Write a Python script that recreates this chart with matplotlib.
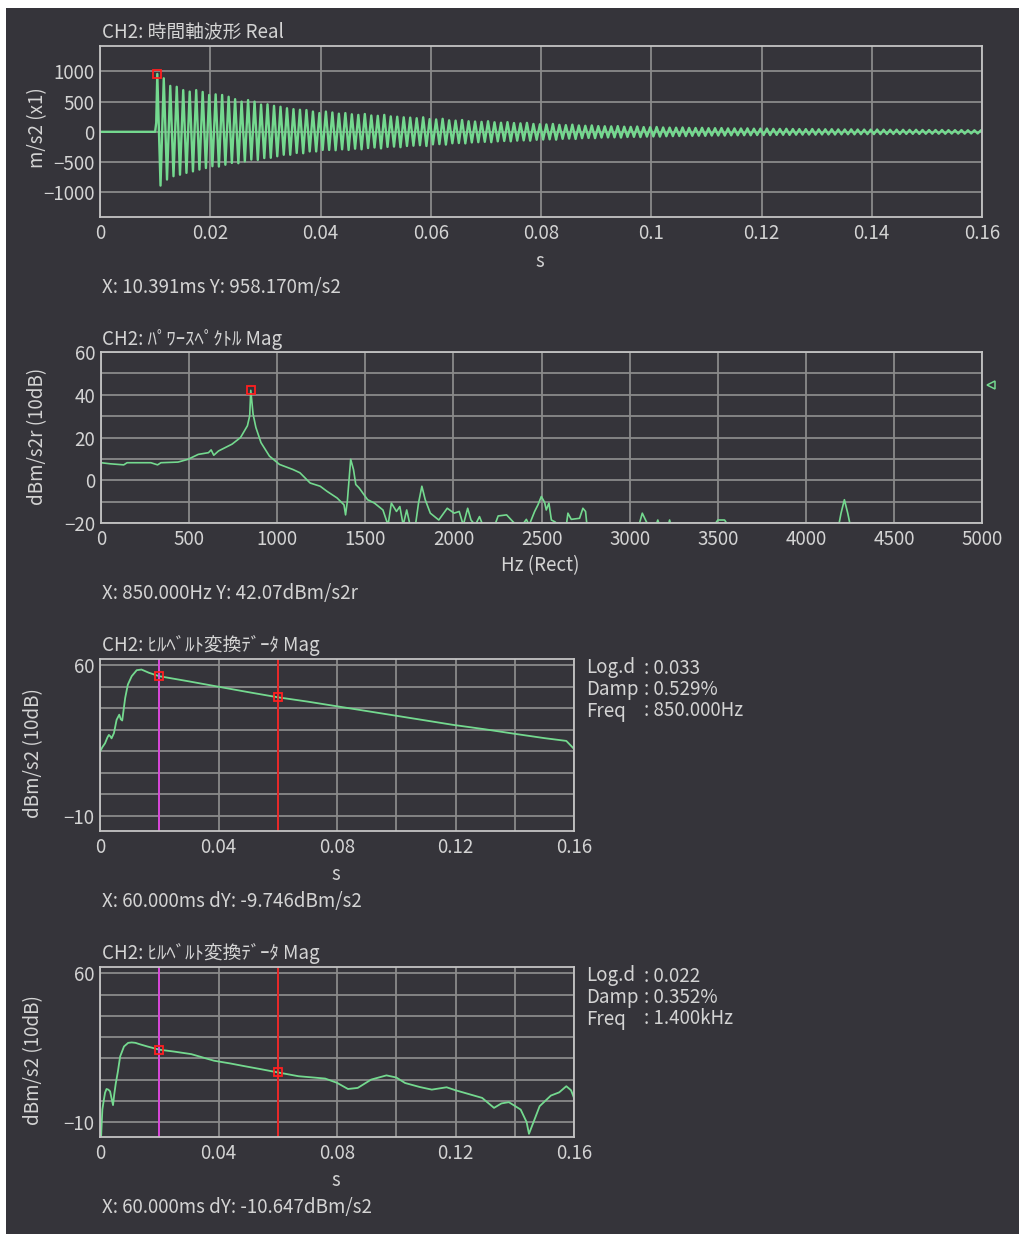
import numpy as np
import matplotlib
matplotlib.use("Agg")
import matplotlib.pyplot as plt
from matplotlib.patches import Rectangle
from matplotlib.transforms import blended_transform_factory

plt.rcParams['font.family'] = ['Noto Sans CJK JP', 'DejaVu Sans']

# ---- data ----
# time waveform: trigger start and the positive / negative peak of each 850 Hz cycle
wave_start = 0.010391
wave_freq = 850.0
wave_pre_t = [0.0, 0.0100, 0.0102]
wave_pre_v = [0.0, 0.0, 150.0]
wave_pos = [958, 885, 760, 745, 690, 665, 690, 660, 610, 620,
            610, 580, 540, 500, 525, 500, 450, 455, 430, 415,
            390, 375, 365, 360, 335, 310, 335, 320, 300, 310,
            290, 280, 295, 270, 265, 280, 255, 250, 240, 235,
            225, 240, 210, 205, 215, 190, 185, 195, 175, 170,
            165, 175, 158, 150, 160, 145, 140, 148, 130, 125,
            122, 130, 115, 110, 118, 105, 100, 106, 95, 92,
            90, 95, 85, 82, 88, 78, 76, 80, 72, 70,
            68, 72, 65, 63, 66, 60, 60, 62, 57, 56,
            55, 57, 52, 52, 54, 49, 48, 50, 46, 45,
            44, 46, 42, 42, 43, 40, 39, 41, 38, 37,
            36, 38, 35, 34, 35, 33, 32, 33, 31, 30,
            30, 31, 28, 28, 29, 26, 26, 25]
wave_neg = [-890, -790, -735, -710, -680, -655, -625, -600, -570, -575,
            -545, -515, -520, -490, -460, -465, -435, -430, -405, -380,
            -380, -350, -355, -325, -325, -300, -300, -305, -290, -300,
            -280, -290, -270, -260, -275, -250, -245, -255, -235, -230,
            -222, -235, -208, -204, -212, -190, -186, -192, -176, -172,
            -166, -172, -158, -152, -158, -146, -142, -147, -132, -128,
            -124, -130, -116, -112, -118, -106, -102, -106, -96, -94,
            -92, -96, -86, -84, -88, -80, -78, -80, -74, -72,
            -70, -72, -67, -65, -67, -62, -62, -63, -59, -58,
            -57, -58, -54, -54, -55, -51, -50, -51, -48, -47,
            -46, -47, -44, -44, -45, -42, -41, -42, -40, -39,
            -38, -39, -37, -36, -37, -35, -34, -35, -33, -32,
            -32, -33, -30, -30, -31, -28, -28, -27]
wave_cursor = (0.010391, 958.170)

# power spectrum (values below -20 fall off the bottom of the plot)
spec_f = [0, 52, 129, 148, 283, 321, 340, 437, 494, 552, 610, 625, 640, 667, 744, 792,
          831, 844, 850, 863, 879, 908, 956, 1013, 1090, 1129, 1187, 1244, 1283, 1340,
          1379, 1388, 1398, 1417, 1433, 1446, 1465, 1513, 1552, 1600, 1629, 1648, 1677,
          1696, 1715, 1735, 1754, 1783, 1802, 1821, 1840, 1869, 1917, 1965, 2004, 2033,
          2056, 2081, 2100, 2124, 2148, 2167, 2235, 2254, 2302, 2338, 2360, 2395, 2414,
          2430, 2461, 2480, 2499, 2518, 2527, 2542, 2556, 2575, 2600, 2641, 2650, 2669,
          2716, 2735, 2750, 2758, 2780, 3040, 3053, 3072, 3095, 3110, 3150, 3160, 3170,
          3220, 3227, 3234, 3470, 3480, 3501, 3539, 3558, 3570, 4180, 4187, 4200, 4219,
          4238, 4252, 4265, 5000]
spec_v = [8.2, 7.7, 7.2, 8.2, 8.2, 7.2, 8.2, 8.5, 9.8, 12.1, 12.9, 14.2, 11.7, 13.7, 16.9, 20.0,
          25.5, 30.2, 42.07, 31.0, 24.7, 17.6, 11.3, 7.4, 5.0, 3.5, -1.3, -2.8, -5.2, -8.3,
          -11.5, -16.2, -9.9, 9.8, 5.0, -2.0, -3.6, -9.1, -10.7, -13.9, -21, -10.7, -14.6,
          -12.3, -21, -13.9, -21, -22, -10.7, -2.8, -9.1, -15.4, -18.6, -13.1, -15.4, -14.6,
          -21, -13.1, -18.6, -21, -17.0, -21, -21, -16.7, -16.2, -19.4, -21, -20.5, -18.3,
          -21, -14.6, -11.5, -7.6, -10.4, -13.9, -10.7, -18.6, -19.4, -21, -21, -15.4, -18.3,
          -17.8, -13.1, -14.6, -21, -24, -24, -21, -15.4, -19.4, -21, -21, -18.6, -21,
          -21, -18.6, -21, -24, -21, -18.6, -18.6, -21, -24, -24, -21, -15.4, -9.1,
          -15.4, -21, -24, -24]
spec_cursor = (850.0, 42.07)
spec_ref_level = 44.5

# Hilbert envelope, 850 Hz band
hil1_t = [0.0, 0.0008, 0.0017, 0.0025, 0.0030, 0.0035, 0.0039, 0.0047, 0.0056, 0.0065,
          0.0070, 0.0075, 0.0085, 0.0094, 0.0107, 0.0124, 0.0140, 0.0165, 0.0200, 0.030,
          0.040, 0.050, 0.060, 0.070, 0.080, 0.090, 0.100, 0.110, 0.119, 0.130, 0.140,
          0.150, 0.1574, 0.160]
hil1_v = [19.9, 22.0, 23.8, 26.5, 27.7, 27.0, 26.1, 28.5, 34.7, 37.1,
          35.0, 34.4, 44.9, 51.1, 55.0, 57.8, 58.1, 56.6, 55.0, 52.6,
          50.1, 47.6, 45.2, 43.2, 41.0, 38.8, 36.6, 34.4, 32.4, 30.3, 28.2,
          26.2, 24.9, 21.2]
hil1_info = [("Log.d", "0.033"), ("Damp", "0.529%"), ("Freq", "850.000Hz")]

# Hilbert envelope, 1400 Hz band
hil2_t = [0.0, 0.0004, 0.0008, 0.0013, 0.0017, 0.0022, 0.0028, 0.0034, 0.0040, 0.0044,
          0.0048, 0.0053, 0.0060, 0.0068, 0.0081, 0.0095, 0.0107, 0.0120, 0.0133, 0.0160,
          0.0200, 0.0250, 0.0308, 0.0350, 0.0385, 0.0440, 0.0489, 0.0540, 0.0600, 0.0670,
          0.0720, 0.0760, 0.0800, 0.0837, 0.0870, 0.0915, 0.0967, 0.1000, 0.1030, 0.1080,
          0.1120, 0.1170, 0.1200, 0.1240, 0.1290, 0.1330, 0.1355, 0.1380, 0.1420, 0.1440,
          0.1448, 0.1458, 0.1484, 0.1522, 0.1550, 0.1574, 0.1590, 0.1600]
hil2_v = [-25, -16, -4, 0.5, 3.8, 5.6, 5.3, 4.5, 0.5, -2.0,
          3.0, 8.0, 13.5, 20.9, 25.6, 27.3, 27.5, 27.3, 26.7, 25.6,
          24.1, 23.2, 22.0, 20.3, 18.9, 17.6, 16.3, 15.0, 13.4, 11.6,
          11.0, 10.5, 8.5, 5.6, 6.1, 10.0, 12.0, 11.0, 8.4, 6.5,
          5.3, 6.4, 5.0, 3.4, 1.4, -3.3, -1.2, -0.6, -4.1, -10.0,
          -15.5, -11.9, -2.5, 2.5, 4.0, 6.9, 5.0, 1.4]
hil2_info = [("Log.d", "0.022"), ("Damp", "0.352%"), ("Freq", "1.400kHz")]

cursor_a = 0.02
cursor_b = 0.06

# ---- style ----
W, H = 1019, 1234
bg = '#35343a'
fg = '#d4d4d4'
grid_c = '#8a8a8a'
green = '#74d98f'
fs = 13.5


def fx(x):
    return x / W


def fy(y):
    return 1 - y / H


def make_axes(x0, y0, x1, y1):
    ax = fig.add_axes([fx(x0), fy(y1), (x1 - x0) / W, (y1 - y0) / H])
    ax.set_facecolor(bg)
    for s in ax.spines.values():
        s.set_color('#c4c4c4')
        s.set_linewidth(1.3)
    ax.tick_params(length=0, colors=fg, labelsize=fs, pad=4)
    ax.grid(True, color=grid_c, linewidth=1.3)
    ax.set_axisbelow(True)
    return ax


def label(x, y, s, **kw):
    fig.text(fx(x), fy(y), s, color=fg, fontsize=fs, va='center', **kw)


fig = plt.figure(figsize=(W / 100, H / 100), dpi=100)
fig.patch.set_facecolor('white')
fig.add_artist(Rectangle((fx(6), 0), 1, 1 - 8 / H, transform=fig.transFigure,
                         facecolor=bg, edgecolor='none', zorder=-10))

# ---- panel 1: time waveform ----
ax1 = make_axes(100, 46, 982, 217)
period = 1.0 / wave_freq
t_pos = wave_start + np.arange(len(wave_pos)) * period
t_neg = t_pos + period / 2
wt = list(wave_pre_t)
wv = list(wave_pre_v)
for a, b, c, d in zip(t_pos, wave_pos, t_neg, wave_neg):
    wt += [a, c]
    wv += [b, d]
wt.append(0.16)
wv.append(0.0)
ax1.plot(wt, wv, color=green, lw=1.7)
ax1.plot(*wave_cursor, marker='s', ms=6, mfc='none', mec='#ff2020', mew=1.3)
ax1.set_xlim(0, 0.16)
ax1.set_ylim(-1410, 1420)
ax1.set_xticks(np.arange(0, 0.161, 0.02))
ax1.set_xticklabels(['0', '0.02', '0.04', '0.06', '0.08', '0.1', '0.12', '0.14', '0.16'])
ax1.set_yticks([1000, 500, 0, -500, -1000])
ax1.set_yticklabels(['1000', '500', '0', '−500', '−1000'])
label(102, 32, 'CH2: 時間軸波形 Real')
label(540, 261, 's', ha='center')
label(102, 287, 'X: 10.391ms Y: 958.170m/s2')
label(38, 128, 'm/s2 (x1)', ha='center', rotation=90)

# ---- panel 2: power spectrum ----
ax2 = make_axes(101, 352, 982, 523)
ax2.plot(spec_f, spec_v, color=green, lw=1.2)
ax2.plot(*spec_cursor, marker='s', ms=6, mfc='none', mec='#ff2020', mew=1.3)
tr = blended_transform_factory(ax2.transAxes, ax2.transData)
ax2.plot([1.01], [spec_ref_level], transform=tr, marker='<', ms=6, mfc='none',
         mec=green, mew=1.1, clip_on=False)
ax2.set_xlim(0, 5000)
ax2.set_ylim(-20, 60)
ax2.set_xticks(np.arange(0, 5001, 500))
ax2.set_yticks(np.arange(-20, 61, 10))
ax2.set_yticklabels([str(v).replace('-', '−') if v % 20 == 0 else '' for v in range(-20, 61, 10)])
label(102, 339, 'CH2: ﾊﾟﾜｰｽﾍﾟｸﾄﾙ Mag')
label(540, 566, 'Hz (Rect)', ha='center')
label(102, 594, 'X: 850.000Hz Y: 42.07dBm/s2r')
label(38, 436, 'dBm/s2r (10dB)', ha='center', rotation=90)

# ---- panels 3, 4: Hilbert envelopes ----
panels = [
    (659, 831, hil1_t, hil1_v, hil1_info, 'X: 60.000ms dY: -9.746dBm/s2'),
    (967, 1137, hil2_t, hil2_v, hil2_info, 'X: 60.000ms dY: -10.647dBm/s2'),
]
for top, bot, ht, hv, info, cur in panels:
    ax = make_axes(100, top, 574, bot)
    ax.plot(ht, hv, color=green, lw=1.3)
    ax.axvline(cursor_a, color='#e040e0', lw=1.3)
    ax.axvline(cursor_b, color='#f02020', lw=1.3)
    for c in (cursor_a, cursor_b):
        ax.plot(c, np.interp(c, ht, hv), marker='s', ms=6, mfc='none', mec='#ff2020', mew=1.3)
    ax.set_xlim(0, 0.16)
    ax.set_ylim(-17, 63)
    ax.set_xticks(np.arange(0, 0.161, 0.02))
    ax.set_xticklabels(['0', '', '0.04', '', '0.08', '', '0.12', '', '0.16'])
    ax.set_yticks(np.arange(-10, 61, 10))
    ax.set_yticklabels(['−10', '', '', '', '', '', '', '60'])
    label(102, top - 13, 'CH2: ﾋﾙﾍﾞﾙﾄ変換ﾃﾞｰﾀ Mag')
    label(336, bot + 44, 's', ha='center')
    label(102, bot + 70, cur)
    label(34, (top + bot) / 2 + 8, 'dBm/s2 (10dB)', ha='center', rotation=90)
    for i, (k, v) in enumerate(info):
        label(586, top + 9 + i * 21.5, k)
        label(644, top + 9 + i * 21.5, ': ' + v)

fig.savefig('out.png', dpi=100, facecolor=fig.get_facecolor())
